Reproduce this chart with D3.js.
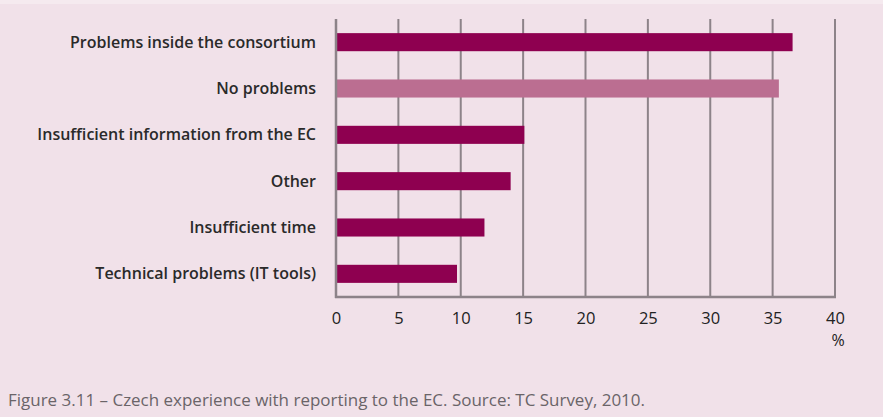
<!DOCTYPE html>
<html>
<head>
<meta charset="utf-8">
<script src="https://cdn.jsdelivr.net/npm/d3@7"></script>
<style>
  html, body { margin: 0; padding: 0; background: #f1e1e9; }
  svg { display: block; }
</style>
</head>
<body>
<svg id="chart" width="883" height="417"></svg>
<script>
// reporting problems, Czech TC survey 2010
var categories = [
    "Problems inside the consortium",
    "No problems",
    "Insufficient information from the EC",
    "Other",
    "Insufficient time",
    "Technical problems (IT tools)"
];
var values = [36.6, 35.5, 15.1, 14.0, 11.9, 9.7];
var highlight = [false, true, false, false, false, false];
var xTicks = [0, 5, 10, 15, 20, 25, 30, 35, 40];
var caption = "Figure 3.11 \u2013 Czech experience with reporting to the EC. Source: TC Survey, 2010.";

var svg = d3.select("#chart");
// note: can't call it "top", window.top is read-only
var plotLeft = 336, plotRight = 835, plotTop = 19, plotBottom = 297;

// thin lighter strip along the top edge
svg.append("rect").attr("x", 0).attr("y", 0).attr("width", 883).attr("height", 4)
    .attr("fill", "#f5eaef");

var x = d3.scaleLinear().domain([0, 40]).range([plotLeft, plotRight]);
var y = d3.scaleBand().domain(categories).range([plotTop, plotBottom]).paddingInner(0.61).paddingOuter(0.305);

// vertical grid
svg.append("g").selectAll("line")
    .data(xTicks.slice(1))
    .enter()
    .append("line")
    .attr("x1", function(d) { return x(d); })
    .attr("x2", function(d) { return x(d); })
    .attr("y1", plotTop)
    .attr("y2", plotBottom)
    .attr("stroke", "#8d8389")
    .attr("stroke-width", 2);

// bars
svg.append("g").selectAll("rect")
    .data(values)
    .enter()
    .append("rect")
    .attr("x", x(0))
    .attr("y", function(d, i) { return y(categories[i]); })
    .attr("width", function(d) { return x(d) - x(0); })
    .attr("height", y.bandwidth())
    .attr("fill", function(d, i) { return highlight[i] ? "#bb6e91" : "#8e0050"; });

// axis lines
svg.append("line").attr("x1", x(0)).attr("x2", x(0)).attr("y1", plotTop).attr("y2", plotBottom + 1)
    .attr("stroke", "#8d8389").attr("stroke-width", 2.5);
svg.append("line").attr("x1", x(0) - 1).attr("x2", x(40) + 1).attr("y1", plotBottom).attr("y2", plotBottom)
    .attr("stroke", "#8d8389").attr("stroke-width", 2.5);

// x tick labels
var xAxis = d3.axisBottom(x).tickValues(xTicks).tickSize(0).tickPadding(15);
var gx = svg.append("g").attr("transform", "translate(0," + plotBottom + ")").call(xAxis);
gx.select(".domain").remove();
gx.selectAll("text")
    .attr("font-family", "'Open Sans', sans-serif")
    .attr("font-size", 16.5)
    .attr("fill", "#222");

svg.append("text").attr("x", x(40) + 3).attr("y", 346)
    .attr("text-anchor", "middle")
    .attr("font-family", "'Open Sans', sans-serif")
    .attr("font-size", 16)
    .attr("fill", "#222")
    .text("%");

// category labels
svg.append("g").selectAll("text")
    .data(categories)
    .enter()
    .append("text")
    .attr("x", 316)
    .attr("y", function(d) { return y(d) + y.bandwidth() / 2; })
    .attr("dy", "0.35em")
    .attr("text-anchor", "end")
    .attr("font-family", "'Open Sans', sans-serif")
    .attr("font-weight", 600)
    .attr("font-size", 16)
    .attr("fill", "#2a2a2a")
    .text(function(d) { return d; });

// caption
svg.append("text").attr("x", 8).attr("y", 406)
    .attr("font-family", "'Open Sans', sans-serif")
    .attr("font-weight", 400)
    .attr("font-size", 17)
    .attr("fill", "#6a6468")
    .attr("textLength", 637)
    .attr("lengthAdjust", "spacingAndGlyphs")
    .text(caption);
</script>
</body>
</html>
